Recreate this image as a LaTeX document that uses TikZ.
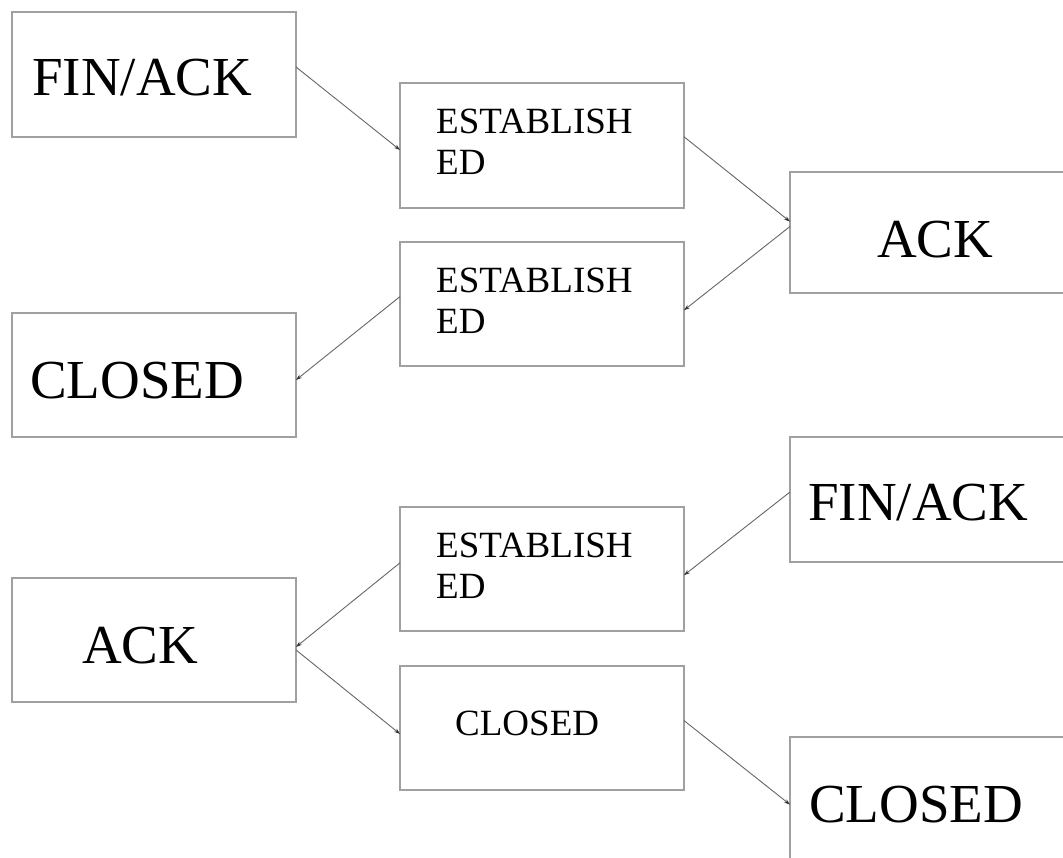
\documentclass[tikz,border=0pt]{standalone}
\usepackage{fontspec}
\setmainfont{Liberation Serif}
\usetikzlibrary{calc,arrows.meta}
\definecolor{boxgray}{HTML}{A0A0A0}
\definecolor{linegray}{HTML}{666666}
\begin{document}
\begin{tikzpicture}[x=1pt,y=-1pt,
  box/.style={draw=boxgray,line width=1.6pt,rectangle,inner sep=0pt,outer sep=0pt,
    minimum width=284pt,minimum height=125pt,anchor=north west},
  big/.style={inner sep=0pt,anchor=base west,font=\fontsize{55}{60}\selectfont},
  smallone/.style={inner sep=0pt,anchor=base west,font=\fontsize{37}{41}\selectfont},
  smalltwo/.style={inner sep=0pt,anchor=north west,align=left,font=\fontsize{37}{41}\selectfont},
  conn/.style={draw=linegray,line width=0.9pt,-{Stealth[length=6pt,width=4pt,color=black!80]}}]
\useasboundingbox (0,0) rectangle (1063,857);
\clip (0,0) rectangle (1063,857);
% boxes
\node[box] (fa1) at (12,12) {};
\node[box] (es1) at (400,83) {};
\node[box,minimum width=290pt,minimum height=121pt] (ackr) at (790,172) {};
\node[box,minimum height=124pt] (es2) at (400,242) {};
\node[box,minimum height=124pt] (cl1) at (12,313) {};
\node[box,minimum width=290pt] (far) at (790,437) {};
\node[box,minimum height=124pt] (es3) at (400,507) {};
\node[box,minimum height=124pt] (ackl) at (12,578) {};
\node[box,minimum height=124pt] (cls) at (400,666) {};
\node[box,minimum width=290pt,minimum height=130pt] (clr) at (790,737) {};
% texts
\node[big] (tfa1) at (32,95) {FIN/ACK};
\node[smalltwo] (tes1) at (436,109) {ESTABLISH\\ED};
\node[big] (tackr) at (877,257) {ACK};
\node[smalltwo] (tes2) at (436,268) {ESTABLISH\\ED};
\node[big] (tcl1) at (30,398) {CLOSED};
\node[big] (tfar) at (808,520) {FIN/ACK};
\node[smalltwo] (tes3) at (436,533) {ESTABLISH\\ED};
\node[big] (tackl) at (82,663) {ACK};
\node[smallone] (tcls) at (455,735) {CLOSED};
\node[big] (tclr) at (809,822) {CLOSED};
% connectors
\draw[conn] ($(fa1.north east)!0.44!(fa1.south east)$) -- ($(es1.north west)!0.536!(es1.south west)$);
\draw[conn] ($(es1.north east)!0.43!(es1.south east)$) -- ($(ackr.north west)!0.41!(ackr.south west)$);
\draw[conn] ($(ackr.north west)!0.45!(ackr.south west)$) -- ($(es2.north east)!0.55!(es2.south east)$);
\draw[conn] ($(es2.north west)!0.44!(es2.south west)$) -- ($(cl1.north east)!0.54!(cl1.south east)$);
\draw[conn] ($(far.north west)!0.44!(far.south west)$) -- ($(es3.north east)!0.55!(es3.south east)$);
\draw[conn] ($(es3.north west)!0.45!(es3.south west)$) -- ($(ackl.north east)!0.556!(ackl.south east)$);
\draw[conn] ($(ackl.north east)!0.58!(ackl.south east)$) -- ($(cls.north west)!0.548!(cls.south west)$);
\draw[conn] ($(cls.north east)!0.44!(cls.south east)$) -- ($(clr.north west)!0.52!(clr.south west)$);
\end{tikzpicture}
\end{document}
